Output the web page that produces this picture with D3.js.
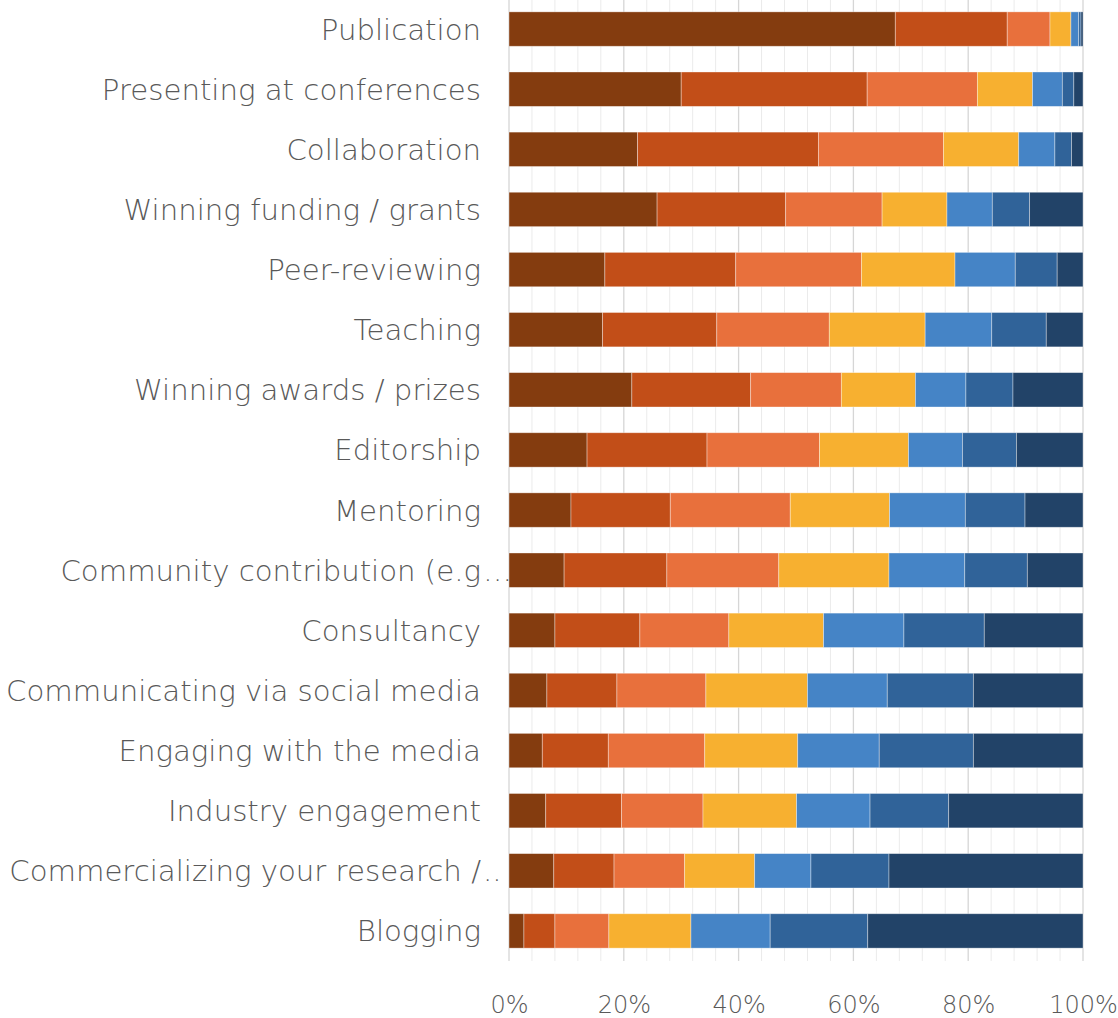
<!DOCTYPE html>
<html>
<head>
<meta charset="utf-8">
<script src="https://cdn.jsdelivr.net/npm/d3@7"></script>
<style>
  html, body { margin: 0; padding: 0; background: #fff; }
  svg { display: block; }
  .cat text, .tick-label text { fill: #595959; }
</style>
</head>
<body>
<svg id="chart" width="1118" height="1018"></svg>
<script>
// Activities, top to bottom. Truncated labels keep their trailing dots separately.
const categories = [
  "Publication",
  "Presenting at conferences",
  "Collaboration",
  "Winning funding / grants",
  "Peer-reviewing",
  "Teaching",
  "Winning awards / prizes",
  "Editorship",
  "Mentoring",
  "Community contribution (e.g",
  "Consultancy",
  "Communicating via social media",
  "Engaging with the media",
  "Industry engagement",
  "Commercializing your research /",
  "Blogging"
];
const labelSuffix = ["", "", "", "", "", "", "", "", "", "…", "", "", "", "", "..", ""];

// Share of respondents (%) giving each rank, rank 1 (most important) to rank 7.
const rank1 = [67.3, 30.0, 22.4, 25.8, 16.7, 16.3, 21.4, 13.6, 10.8,  9.6,  8.0,  6.6,  5.8,  6.4,  7.8,  2.6];
const rank2 = [19.5, 32.4, 31.5, 22.4, 22.8, 19.9, 20.7, 20.9, 17.3, 17.9, 14.8, 12.2, 11.5, 13.2, 10.5,  5.4];
const rank3 = [ 7.45,19.2, 21.8, 16.8, 21.9, 19.6, 15.8, 19.6, 20.9, 19.5, 15.5, 15.5, 16.8, 14.2, 12.3,  9.4];
const rank4 = [ 3.65, 9.6, 13.1, 11.3, 16.3, 16.7, 12.9, 15.5, 17.3, 19.2, 16.5, 17.7, 16.2, 16.3, 12.2, 14.3];
const rank5 = [ 1.35, 5.2,  6.3,  7.9, 10.5, 11.6,  8.8,  9.4, 13.2, 13.2, 14.0, 13.9, 14.2, 12.8,  9.8, 13.8];
const rank6 = [ 0.4,  2.0,  2.9,  6.5,  7.3,  9.5,  8.2,  9.4, 10.4, 10.9, 14.0, 15.0, 16.4, 13.7, 13.6, 17.0];
const rank7 = [ 0.35, 1.6,  2.0,  9.3,  4.5,  6.4, 12.2, 11.6, 10.1,  9.7, 17.2, 19.1, 19.1, 23.4, 33.8, 37.5];

const seriesKeys = ["rank1", "rank2", "rank3", "rank4", "rank5", "rank6", "rank7"];
const seriesValues = [rank1, rank2, rank3, rank4, rank5, rank6, rank7];
const seriesColors = ["#843C0F", "#C24E18", "#E8703C", "#F7B030", "#4584C6", "#306399", "#224368"];

const axisTicks = [0, 20, 40, 60, 80, 100];

// Rows for d3.stack, built from the arrays above.
const rows = categories.map((c, i) => {
  const r = { category: c, suffix: labelSuffix[i] };
  seriesKeys.forEach((k, j) => { r[k] = seriesValues[j][i]; });
  return r;
});

const svg = d3.select("#chart");
const plot = { left: 509, right: 1083, top: -1, bottom: 961 };

const x = d3.scaleLinear().domain([0, 100]).range([plot.left, plot.right]);
const y = d3.scaleBand()
  .domain(categories)
  .range([plot.top, plot.bottom])
  .paddingInner(0.428)
  .paddingOuter(0.214);

// Minor gridlines every 4 %, major every 20 %
const gridTop = 0, gridBottom = 961;
svg.append("g")
  .selectAll("line")
  .data(d3.range(0, 101, 4).filter(v => v % 20 !== 0))
  .join("line")
  .attr("x1", d => x(d)).attr("x2", d => x(d))
  .attr("y1", gridTop).attr("y2", gridBottom)
  .attr("stroke", "#ebebeb")
  .attr("stroke-width", 1);

svg.append("g")
  .selectAll("line")
  .data(axisTicks)
  .join("line")
  .attr("x1", d => x(d)).attr("x2", d => x(d))
  .attr("y1", gridTop).attr("y2", gridBottom)
  .attr("stroke", "#d6d6d6")
  .attr("stroke-width", 1.3);

// Stacked bars
const stacked = d3.stack().keys(seriesKeys)(rows);

svg.append("g")
  .selectAll("g")
  .data(stacked)
  .join("g")
  .attr("fill", (d, i) => seriesColors[i])
  .selectAll("rect")
  .data(d => d)
  .join("rect")
  .attr("x", d => x(d[0]))
  .attr("width", d => Math.max(0, x(d[1]) - x(d[0])))
  .attr("y", d => y(d.data.category))
  .attr("height", y.bandwidth())
  .attr("stroke", "rgba(255,255,255,0.45)")
  .attr("stroke-width", 0.8);

// Category labels
const labelFont = "'DejaVu Sans', sans-serif";
const cat = svg.append("g").attr("class", "cat")
  .attr("font-family", labelFont)
  .attr("font-size", 29.2)
  .attr("font-weight", 200);

const labelRight = 481;
cat.selectAll("text.main")
  .data(rows)
  .join("text")
  .attr("class", "main")
  .attr("x", labelRight)
  .attr("y", d => y(d.category) + y.bandwidth() / 2)
  .attr("dy", "0.36em")
  .attr("text-anchor", "end")
  .text(d => d.category);

cat.selectAll("text.suffix")
  .data(rows.filter(d => d.suffix))
  .join("text")
  .attr("class", "suffix")
  .attr("x", labelRight + 2)
  .attr("y", d => y(d.category) + y.bandwidth() / 2)
  .attr("dy", "0.36em")
  .attr("text-anchor", "start")
  .text(d => d.suffix);

// Percentage axis labels
const xAxis = d3.axisBottom(x)
  .tickValues(axisTicks)
  .tickSize(0)
  .tickPadding(0)
  .tickFormat(d => d + "%");

const ax = svg.append("g")
  .attr("class", "tick-label")
  .attr("transform", "translate(0, 995)")
  .call(xAxis);
ax.select(".domain").remove();
ax.selectAll("text")
  .attr("y", 0)
  .attr("dy", "0.74em")
  .attr("font-family", labelFont)
  .attr("font-weight", 200)
  .attr("font-size", 24);
</script>
</body>
</html>
